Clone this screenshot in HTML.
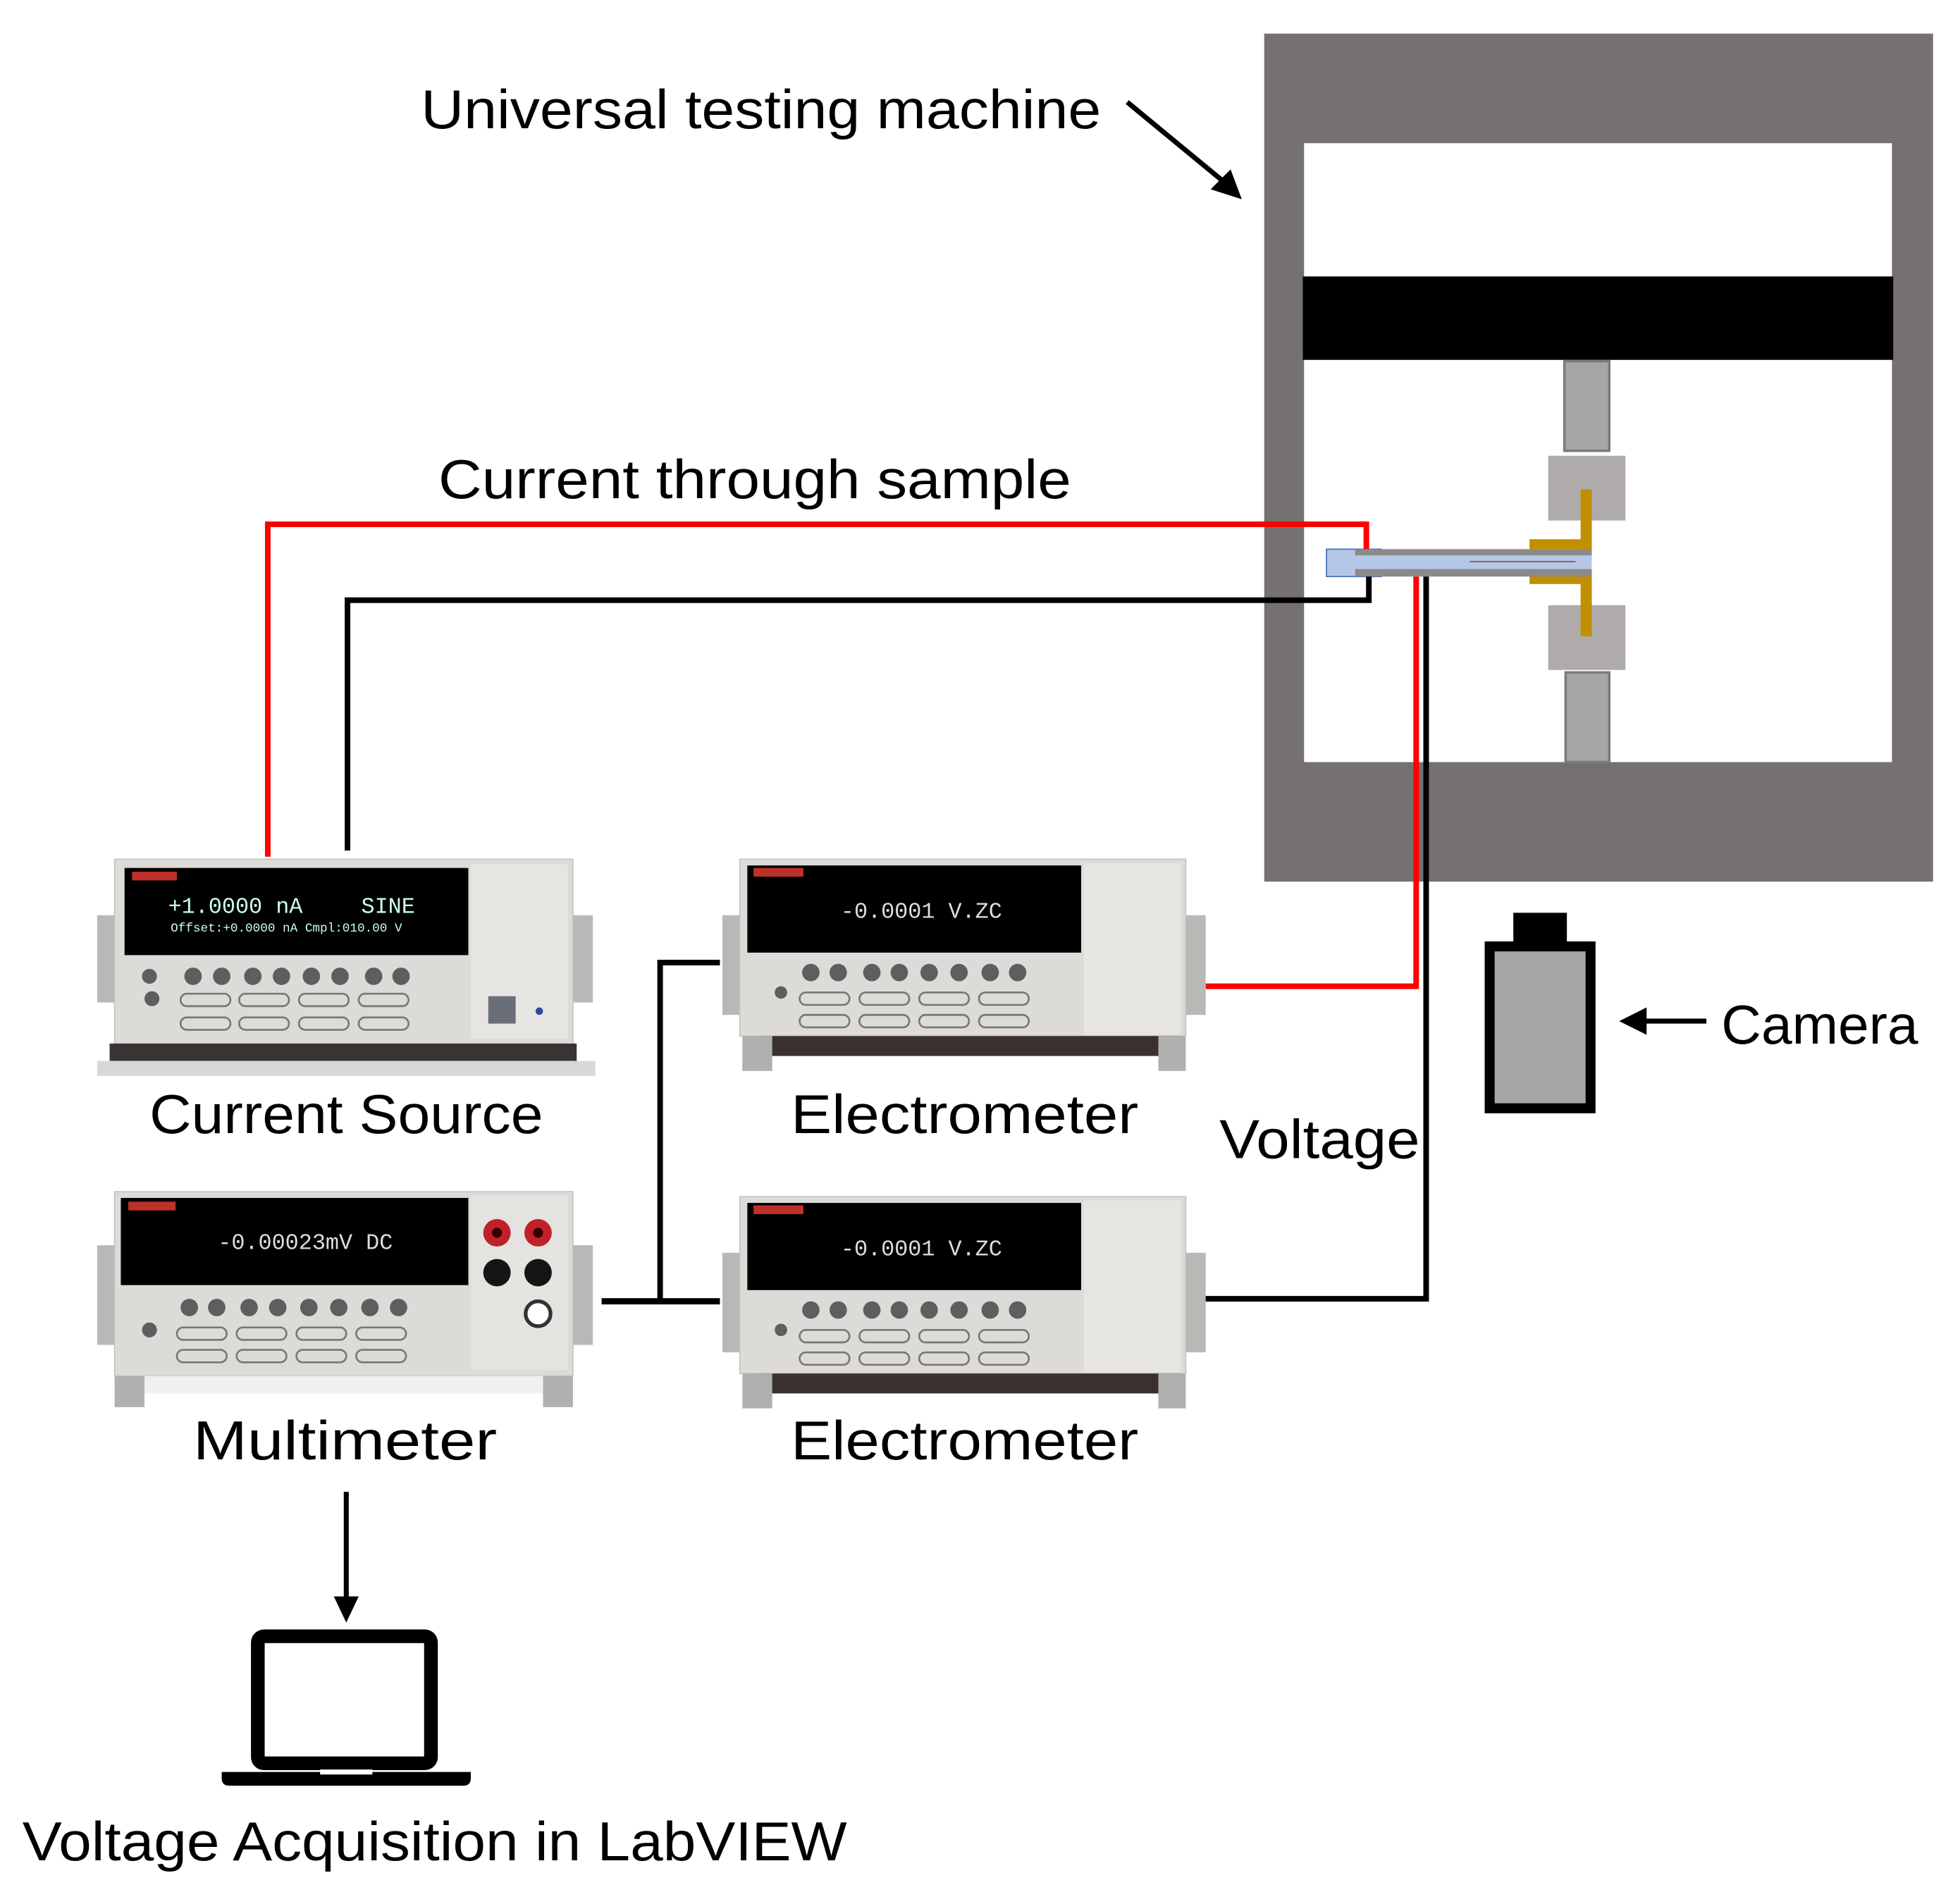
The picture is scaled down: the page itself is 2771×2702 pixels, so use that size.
<!DOCTYPE html>
<html><head><meta charset="utf-8"><style>html,body{margin:0;padding:0;background:#fff}svg{display:block}</style></head>
<body>
<svg xmlns="http://www.w3.org/2000/svg" width="2771" height="2702" viewBox="0 0 1568 1529" preserveAspectRatio="none">
<rect width="1568" height="1529" fill="#fff"/>
<g font-family="'Liberation Sans', sans-serif" fill="#000">
<text x="338" y="103" font-size="44" textLength="546" lengthAdjust="spacingAndGlyphs">Universal testing machine</text>
<text x="352" y="400" font-size="44" textLength="508" lengthAdjust="spacingAndGlyphs">Current through sample</text>
<text x="120" y="910" font-size="44" textLength="316" lengthAdjust="spacingAndGlyphs">Current Source</text>
<text x="635" y="910" font-size="44" textLength="279" lengthAdjust="spacingAndGlyphs">Electrometer</text>
<text x="635" y="1172" font-size="44" textLength="279" lengthAdjust="spacingAndGlyphs">Electrometer</text>
<text x="155" y="1172" font-size="44" textLength="244" lengthAdjust="spacingAndGlyphs">Multimeter</text>
<text x="979" y="930" font-size="44" textLength="161" lengthAdjust="spacingAndGlyphs">Voltage</text>
<text x="1382" y="838" font-size="44" textLength="158" lengthAdjust="spacingAndGlyphs">Camera</text>
<text x="18" y="1494" font-size="44" textLength="662" lengthAdjust="spacingAndGlyphs">Voltage Acquisition in LabVIEW</text>
</g>
<line x1="905" y1="82" x2="985" y2="148" stroke="#000" stroke-width="4"/>
<polygon points="997,160 972,152 988,136" fill="#000"/>
<rect x="1015" y="27" width="537" height="681" fill="#757170"/>
<rect x="1047" y="115" width="472" height="497" fill="#fff"/>
<rect x="1046" y="222" width="474" height="67" fill="#000"/>
<rect x="1256" y="290" width="36" height="72" fill="#a6a6a6" stroke="#7a7a7a" stroke-width="2"/>
<rect x="1243" y="366" width="62" height="52" fill="#afabaa"/>
<rect x="1243" y="486" width="62" height="52" fill="#afabaa"/>
<rect x="1257" y="540" width="35" height="72" fill="#a6a6a6" stroke="#7a7a7a" stroke-width="2"/>
<rect x="1269" y="393" width="9" height="118" fill="#c09000"/>
<rect x="1228" y="433" width="50" height="8" fill="#c09000"/>
<rect x="1228" y="461" width="50" height="8" fill="#c09000"/>
<rect x="1065" y="441" width="44" height="22" fill="#b4c7e7" stroke="#4472c4" stroke-width="1"/>
<rect x="1088" y="441" width="190" height="22" fill="#8a8a8a"/>
<rect x="1088" y="446" width="190" height="11" fill="#b4c7e7"/>
<line x1="1180" y1="451" x2="1265" y2="451" stroke="#a0522d" stroke-width="1"/>
<polyline points="215,688 215,421 1097,421 1097,441" fill="none" stroke="#f00" stroke-width="4.5"/>
<polyline points="279,683 279,482 1099,482 1099,463" fill="none" stroke="#000" stroke-width="4.5"/>
<polyline points="1137,463 1137,792 968,792" fill="none" stroke="#f00" stroke-width="4.5"/>
<polyline points="1145,463 1145,1043 962,1043" fill="none" stroke="#000" stroke-width="4.5"/>
<polyline points="578,773 530,773 530,1045" fill="none" stroke="#000" stroke-width="4.5"/>
<line x1="483" y1="1045" x2="578" y2="1045" stroke="#000" stroke-width="5"/>
<rect x="1215" y="733" width="43" height="27" fill="#000"/>
<rect x="1196" y="760" width="81" height="130" fill="#a6a6a6" stroke="#000" stroke-width="8"/>
<line x1="1370" y1="820" x2="1320" y2="820" stroke="#000" stroke-width="4"/>
<polygon points="1300,820 1322,809 1322,831" fill="#000"/>
<line x1="278" y1="1198" x2="278" y2="1285" stroke="#000" stroke-width="4"/>
<polygon points="278,1303 268,1282 288,1282" fill="#000"/>
<rect x="207" y="1314" width="139" height="102" rx="5" fill="none" stroke="#000" stroke-width="11"/>
<path d="M178,1423 H378 V1428 Q378,1434 372,1434 H184 Q178,1434 178,1428 Z" fill="#000"/>
<rect x="257" y="1421" width="42" height="4" fill="#fff"/>

<g>
<rect x="78" y="735" width="18" height="70" fill="#b8b8b6"/>
<rect x="458" y="735" width="18" height="70" fill="#b8b8b6"/>
<rect x="92" y="690" width="368" height="150" fill="#dcdbd8" stroke="#c4c4c0"/>
<rect x="100" y="697" width="276" height="70" fill="#000"/>
<rect x="106" y="700" width="36" height="7" fill="#c0302a"/>
<text x="135" y="733" font-family="'Liberation Mono',monospace" font-size="18" fill="#cfe">+1.0000 nA</text>
<text x="290" y="733" font-family="'Liberation Mono',monospace" font-size="18" fill="#cfe">SINE</text>
<text x="137" y="748" font-family="'Liberation Mono',monospace" font-size="10" fill="#cfe">Offset:+0.0000 nA  Cmpl:010.00 V</text>
<rect x="378" y="694" width="78" height="140" fill="#e6e5e2"/>
<rect x="392" y="800" width="22" height="22" fill="#6a6e78"/>
<circle cx="433" cy="812" r="3" fill="#2a4aa0"/>
<g fill="#5e5e60"><circle cx="155" cy="784" r="7"/><circle cx="178" cy="784" r="7"/><circle cx="203" cy="784" r="7"/><circle cx="226" cy="784" r="7"/><circle cx="250" cy="784" r="7"/><circle cx="273" cy="784" r="7"/><circle cx="300" cy="784" r="7"/><circle cx="322" cy="784" r="7"/><circle cx="120" cy="784" r="6"/><circle cx="122" cy="802" r="6"/></g>
<g fill="none" stroke="#777" stroke-width="1.5"><rect x="145" y="798" width="40" height="10" rx="5"/><rect x="192" y="798" width="40" height="10" rx="5"/><rect x="240" y="798" width="40" height="10" rx="5"/><rect x="288" y="798" width="40" height="10" rx="5"/><rect x="145" y="817" width="40" height="10" rx="5"/><rect x="192" y="817" width="40" height="10" rx="5"/><rect x="240" y="817" width="40" height="10" rx="5"/><rect x="288" y="817" width="40" height="10" rx="5"/></g>
<rect x="88" y="838" width="375" height="14" fill="#3a3434"/>
<rect x="78" y="852" width="400" height="12" fill="#d8d8d6"/>
</g>

<g id="em">
<rect x="580" y="735" width="16" height="80" fill="#b8b8b6"/>
<rect x="952" y="735" width="16" height="80" fill="#b8b8b6"/>
<rect x="594" y="690" width="358" height="142" fill="#dcdbd8" stroke="#c4c4c0"/>
<rect x="600" y="695" width="268" height="70" fill="#000"/>
<rect x="605" y="697" width="40" height="7" fill="#c0302a"/>
<text x="675" y="737" font-family="'Liberation Mono',monospace" font-size="18" fill="#ddd">-0.0001  V.ZC</text>
<rect x="870" y="693" width="78" height="138" fill="#e6e5e2"/>
<g fill="#5e5e60"><circle cx="651" cy="781" r="7"/><circle cx="673" cy="781" r="7"/><circle cx="700" cy="781" r="7"/><circle cx="722" cy="781" r="7"/><circle cx="746" cy="781" r="7"/><circle cx="770" cy="781" r="7"/><circle cx="795" cy="781" r="7"/><circle cx="817" cy="781" r="7"/><circle cx="627" cy="797" r="5"/></g>
<g fill="none" stroke="#777" stroke-width="1.5"><rect x="642" y="797" width="40" height="10" rx="5"/><rect x="690" y="797" width="40" height="10" rx="5"/><rect x="738" y="797" width="40" height="10" rx="5"/><rect x="786" y="797" width="40" height="10" rx="5"/><rect x="642" y="815" width="40" height="10" rx="5"/><rect x="690" y="815" width="40" height="10" rx="5"/><rect x="738" y="815" width="40" height="10" rx="5"/><rect x="786" y="815" width="40" height="10" rx="5"/></g>
<rect x="608" y="832" width="340" height="16" fill="#3a3030"/>
<rect x="596" y="832" width="24" height="28" fill="#b0b0ae"/>
<rect x="930" y="832" width="22" height="28" fill="#b0b0ae"/>
</g>
<use href="#em" transform="translate(0,271)"/>

<g>
<rect x="78" y="1000" width="18" height="80" fill="#b8b8b6"/>
<rect x="458" y="1000" width="18" height="80" fill="#b8b8b6"/>
<rect x="92" y="957" width="368" height="148" fill="#dcdbd8" stroke="#c4c4c0"/>
<rect x="97" y="962" width="279" height="70" fill="#000"/>
<rect x="103" y="965" width="38" height="7" fill="#c0302a"/>
<text x="175" y="1003" font-family="'Liberation Mono',monospace" font-size="18" fill="#ddd">-0.00023mV DC</text>
<rect x="378" y="960" width="78" height="140" fill="#e4e3e0"/>
<circle cx="399" cy="990" r="11" fill="#c0202a"/><circle cx="399" cy="990" r="4" fill="#300"/>
<circle cx="432" cy="990" r="11" fill="#c0202a"/><circle cx="432" cy="990" r="4" fill="#300"/>
<circle cx="399" cy="1022" r="11" fill="#151515"/>
<circle cx="432" cy="1022" r="11" fill="#151515"/>
<circle cx="432" cy="1055" r="10" fill="#fff" stroke="#333" stroke-width="3"/>
<g fill="#5e5e60"><circle cx="152" cy="1050" r="7"/><circle cx="174" cy="1050" r="7"/><circle cx="200" cy="1050" r="7"/><circle cx="223" cy="1050" r="7"/><circle cx="248" cy="1050" r="7"/><circle cx="272" cy="1050" r="7"/><circle cx="297" cy="1050" r="7"/><circle cx="320" cy="1050" r="7"/><circle cx="120" cy="1068" r="6"/></g>
<g fill="none" stroke="#777" stroke-width="1.5"><rect x="142" y="1066" width="40" height="10" rx="5"/><rect x="190" y="1066" width="40" height="10" rx="5"/><rect x="238" y="1066" width="40" height="10" rx="5"/><rect x="286" y="1066" width="40" height="10" rx="5"/><rect x="142" y="1084" width="40" height="10" rx="5"/><rect x="190" y="1084" width="40" height="10" rx="5"/><rect x="238" y="1084" width="40" height="10" rx="5"/><rect x="286" y="1084" width="40" height="10" rx="5"/></g>
<rect x="100" y="1105" width="350" height="14" fill="#f0f0ee"/>
<rect x="92" y="1105" width="24" height="25" fill="#b0b0ae"/>
<rect x="436" y="1105" width="24" height="25" fill="#b0b0ae"/>
</g>
</svg>
</body></html>
